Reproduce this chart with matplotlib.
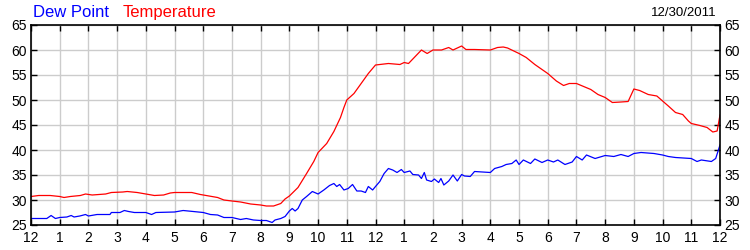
import matplotlib
matplotlib.use('Agg')
import matplotlib.pyplot as plt

plt.rcParams['font.family'] = ['Liberation Sans', 'DejaVu Sans']

# temperature (hours after midnight, deg F)
temp_hours = [0, 0.27, 0.67, 1, 1.15, 1.37, 1.72, 1.9, 2.13, 2.6, 2.8, 3.2, 3.35, 3.7, 4, 4.3, 4.62,
              4.85, 5, 5.6, 5.9, 6.2, 6.5, 6.72, 7, 7.3, 7.65, 8, 8.2, 8.45, 8.7, 8.85, 9, 9.3, 9.6,
              9.85, 10, 10.3, 10.55, 10.78, 10.9, 11, 11.25, 11.5, 11.75, 12, 12.45, 12.85, 13, 13.15,
              13.6, 13.8, 14, 14.3, 14.55, 14.7, 15, 15.15, 15.45, 16, 16.25, 16.45, 16.6, 17,
              17.25, 17.55, 18, 18.3, 18.55, 18.75, 19, 19.25, 19.5, 19.75, 20, 20.25, 20.55, 20.8,
              21, 21.2, 21.5, 21.8, 22, 22.2, 22.45, 22.7, 22.9, 23, 23.3, 23.55, 23.75, 23.9, 24]
temp_vals = [30.7, 30.9, 30.9, 30.7, 30.5, 30.7, 30.9, 31.2, 31.0, 31.2, 31.5, 31.6, 31.7, 31.5, 31.2,
             30.9, 31.0, 31.4, 31.5, 31.5, 31.1, 30.8, 30.5, 30.0, 29.8, 29.6, 29.2, 29.0, 28.8,
             28.8, 29.3, 30.2, 30.8, 32.5, 35.3, 37.7, 39.5, 41.3, 43.7, 46.5, 48.5, 50.0, 51.3, 53.3,
             55.3, 57.0, 57.3, 57.1, 57.5, 57.3, 60.0, 59.3, 60.0, 60.0, 60.5, 60.0, 60.8, 60.1,
             60.1, 60.0, 60.5, 60.6, 60.4, 59.3, 58.5, 57.1, 55.3, 53.8, 52.9, 53.3, 53.3, 52.7,
             52.1, 51.1, 50.5, 49.5, 49.6, 49.7, 52.2, 51.9, 51.1, 50.8, 49.8, 48.8, 47.5, 47.1,
             45.8, 45.3, 44.9, 44.5, 43.6, 43.8, 47.0]

# dew point
dew_hours = [0, 0.55, 0.7, 0.85, 1, 1.25, 1.4, 1.5, 1.7, 1.9, 2, 2.3, 2.75, 2.8, 3.1, 3.25, 3.4, 3.6,
             4, 4.2, 4.35, 5, 5.3, 5.65, 6, 6.25, 6.5, 6.72, 7, 7.3, 7.5, 7.75, 8, 8.2, 8.4, 8.5, 8.7,
             8.85, 9, 9.1, 9.2, 9.3, 9.45, 9.6, 9.8, 10, 10.2, 10.4, 10.55, 10.65, 10.75, 10.9, 11.05,
             11.2, 11.35, 11.5, 11.65, 11.75, 11.9, 12, 12.15, 12.3, 12.45, 12.6, 12.75, 12.9, 13,
             13.2, 13.3, 13.5, 13.6, 13.7, 13.78, 13.95, 14.05, 14.2, 14.28, 14.38, 14.55, 14.7,
             14.85, 15, 15.1, 15.3, 15.45, 16, 16.15, 16.4, 16.55, 16.75, 16.9, 17, 17.15, 17.4,
             17.55, 17.8, 18, 18.2, 18.35, 18.6, 18.85, 19, 19.2, 19.35, 19.65, 20, 20.3, 20.55,
             20.8, 21, 21.25, 21.7, 22, 22.2, 22.45, 23, 23.2, 23.35, 23.7, 23.85, 24]
dew_vals = [26.3, 26.3, 26.9, 26.3, 26.5, 26.6, 26.9, 26.6, 26.8, 27.1, 26.8, 27.1, 27.1, 27.5, 27.5,
            27.9, 27.7, 27.5, 27.5, 27.1, 27.5, 27.6, 27.9, 27.7, 27.5, 27.1, 27.0, 26.5, 26.5, 26.1,
            26.3, 26.0, 25.9, 25.9, 25.5, 26.0, 26.3, 26.7, 27.8, 28.3, 27.8, 28.3, 30.0, 30.7, 31.7,
            31.2, 32.0, 32.9, 33.3, 32.7, 33.1, 32.0, 32.3, 33.1, 31.8, 31.8, 31.5, 32.7, 32.0, 32.7,
            33.7, 35.3, 36.3, 36.0, 35.5, 36.1, 35.5, 35.8, 35.1, 35.0, 34.3, 35.5, 34.0, 33.7,
            34.2, 33.5, 34.3, 33.0, 33.8, 35.0, 33.8, 35.1, 34.8, 34.7, 35.7, 35.5, 36.3, 36.7, 37.1,
            37.3, 38.0, 37.1, 38.0, 37.3, 38.2, 37.5, 38.0, 37.6, 38.0, 37.1, 37.6, 38.7, 38.0,
            39.0, 38.3, 38.9, 38.7, 39.1, 38.7, 39.3, 39.5, 39.3, 39.0, 38.7, 38.5, 38.3, 37.7, 38.0,
            37.7, 38.3, 41.0]

hour_labels = ['12', '1', '2', '3', '4', '5', '6', '7', '8', '9', '10', '11',
               '12', '1', '2', '3', '4', '5', '6', '7', '8', '9', '10', '11', '12']
y_ticks = [25, 30, 35, 40, 45, 50, 55, 60, 65]

fig = plt.figure(figsize=(7.5, 2.5), dpi=100)
ax = fig.add_axes([31 / 750, 0.1, 689 / 750, 0.8])

ax.plot(temp_hours, temp_vals, color='#ff0000', lw=0.9)
ax.plot(dew_hours, dew_vals, color='#0000ff', lw=0.9)

ax.set_xlim(0, 24)
ax.set_ylim(25, 65)
ax.set_xticks(range(25))
ax.set_xticklabels(hour_labels)
ax.set_yticks(y_ticks)
ax.grid(True, color='#cccccc', lw=1.0)
ax.set_axisbelow(True)
ax.tick_params(axis='both', direction='in', length=4, width=1, labelsize=10,
               top=True, right=True, labelright=True, pad=3)
ax.tick_params(axis='x', pad=4)
for s in ax.spines.values():
    s.set_linewidth(1.2)

fig.text(33 / 750, 0.95, 'Dew Point', color='#0000ff', fontsize=12, va='center', ha='left')
fig.text(123 / 750, 0.95, 'Temperature', color='#ff0000', fontsize=12, va='center', ha='left')
fig.text(717 / 750, 0.95, '12/30/2011', color='black', fontsize=9.5, va='center', ha='right')

fig.savefig('out.png', dpi=100)
